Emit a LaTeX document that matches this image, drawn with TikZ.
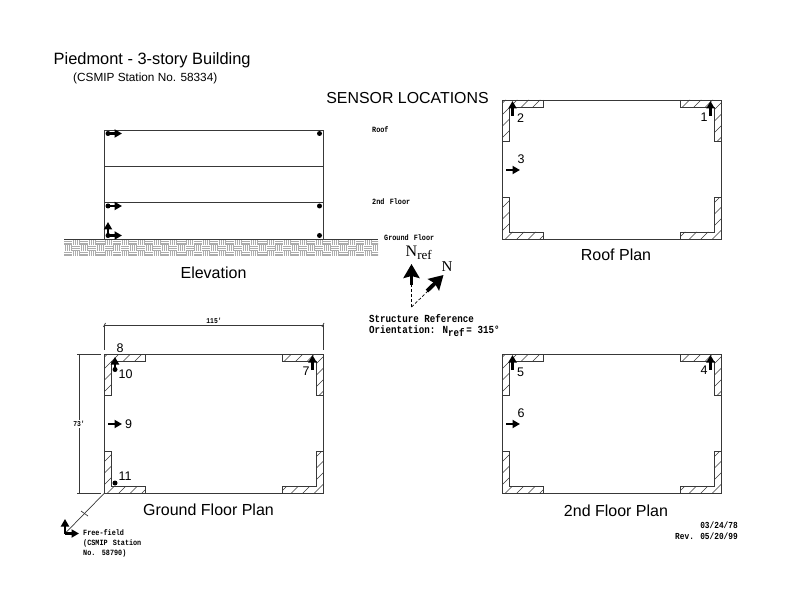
\documentclass[tikz,border=0pt]{standalone}
\usepackage{fontspec}
\setmainfont{Liberation Sans}
\newfontfamily\labfont{Liberation Mono}[FakeStretch=0.85]
\newfontfamily\serfont{Liberation Serif}
\usetikzlibrary{arrows.meta}
\definecolor{wallc}{gray}{0.22}
\tikzset{
  wall/.style={draw=wallc,line width=0.9pt},
  thin wall/.style={draw=wallc,line width=0.7pt},
  hatchline/.style={draw=wallc,line width=0.45pt},
  sensor/.style={-{Triangle[length=7.5pt,width=8pt]},line width=2.2pt,black},
  bigsensor/.style={-{Stealth[length=14pt,width=16pt,inset=2pt]},line width=3.8pt,black},
  dot/.style={circle,fill=black,inner sep=0pt,minimum size=5pt},
  title/.style={font=\fontsize{16.4}{18}\selectfont,anchor=west,inner sep=0pt},
  caption/.style={font=\fontsize{16}{18}\selectfont,inner sep=0pt},
  num/.style={font=\fontsize{12.5}{14}\selectfont,inner sep=0pt},
  lab/.style={font=\labfont\bfseries\fontsize{8}{10}\selectfont,anchor=west,inner sep=0pt,align=left},
  labb/.style={font=\labfont\bfseries\fontsize{9.2}{10}\selectfont,inner sep=0pt,align=left},
  lab2/.style={font=\labfont\bfseries\fontsize{10.8}{11}\selectfont,anchor=west,inner sep=0pt,align=left},
  dim/.style={draw=wallc,line width=0.7pt},
}
% plan outline with four L-shaped hatched corner walls; #1,#2 = top-left corner
\newcommand{\planwalls}[2]{%
  \begin{scope}[shift={(#1,#2)}]
    \foreach \sx/\sy/\ox/\oy in {1/1/0/0,-1/1/218.5/0,1/-1/0/139,-1/-1/218.5/139}{%
      \begin{scope}[shift={(\ox,\oy)},xscale=\sx,yscale=\sy]
        \begin{scope}
          \clip (0,0) -- (41,0) -- (41,7) -- (7,7) -- (7,41.5) -- (0,41.5) -- cycle;
          \begin{scope}[xscale=\sx,yscale=\sy]
            \foreach \k in {-6,...,6}{\draw[hatchline] ({\k*11.5+3-60},60) -- ({\k*11.5+3+60},-60);}
          \end{scope}
        \end{scope}
        \draw[thin wall] (41,0) -- (41,7) -- (7,7) -- (7,41.5) -- (0,41.5);
      \end{scope}}
    \draw[wall] (0,0) rectangle (218.5,139);
  \end{scope}}
\begin{document}
\begin{tikzpicture}[x=1pt,y=-1pt]
\useasboundingbox (0,0) rectangle (792,612);
% titles
\node[title] (t1) at (53.5,60) {Piedmont - 3-story Building};
\node[font=\fontsize{11.8}{14}\selectfont,anchor=west,inner sep=0pt] (t2) at (73,78) {(CSMIP Station No. 58334)};
\node[font=\fontsize{15.9}{18}\selectfont,inner sep=0pt] (t3) at (407.5,98) {SENSOR LOCATIONS};
% ground hatch
\begin{scope}
  \clip (64,239.5) rectangle (378,256);
  \foreach \i in {0,...,38}{\foreach \j in {0,1,2}{%
    \pgfmathsetmacro{\xx}{64+\i*8.1}
    \pgfmathsetmacro{\yy}{240+\j*5.5}
    \pgfmathtruncatemacro{\parity}{mod(\i+\j,2)}
    \ifnum\parity=0
      \foreach \d in {0.9,2.75,4.6}{\draw[gray!65,line width=0.4pt] (\xx,\yy+\d) -- (\xx+8.1,\yy+\d);}
    \else
      \foreach \d in {1,3,5,7}{\draw[gray!65,line width=0.4pt] (\xx+\d,\yy) -- (\xx+\d,\yy+5.5);}
    \fi
  }}
\end{scope}
% elevation
\draw[wall] (64,239) -- (378,239);
\draw[wall] (104.5,130) rectangle (323,239);
\draw[wall] (104.5,166) -- (323,166);
\draw[wall] (104.5,202) -- (323,202);
\node[dot] (e1) at (108,133.5) {};
\node[dot] (e2) at (108,206) {};
\node[dot] (e3) at (108,235.5) {};
\node[dot] (e4) at (319.5,133.5) {};
\node[dot] (e5) at (319.5,206) {};
\node[dot] (e6) at (319.5,235.5) {};
\coordinate (e1h) at (122,133.5);
\coordinate (e2h) at (122,206);
\coordinate (e3h) at (122,235.5);
\coordinate (e3v) at (108,222);
\draw[sensor] (e1.center) -- (e1h);
\draw[sensor] (e2.center) -- (e2h);
\draw[sensor] (e3.center) -- (e3h);
\draw[sensor] (e3.center) -- (e3v);
\node[caption] (c1) at (213.5,273) {Elevation};
\node[lab] (l1) at (372,130) {Roof};
\node[lab] (l2) at (372,201.5) {2nd\hspace{1.3pt} Floor};
\node[lab] (l3) at (384,237.5) {Ground\hspace{1pt} Floor};
% north
\coordinate (o) at (411.5,307);
\coordinate (nr) at (411.5,264);
\coordinate (ne) at (443.5,275);
\draw[densely dashed,line width=0.7pt] (o) -- (411.5,285);
\draw[densely dashed,line width=0.7pt] (o) -- (428,291);
\draw[bigsensor] (411.5,285) -- (nr);
\draw[bigsensor] (427,291) -- (ne);
\node[font=\serfont\fontsize{16}{18}\selectfont,inner sep=0pt,anchor=west] (n1) at (405.5,253) {N\raisebox{-3.5pt}{\fontsize{13}{14}\selectfont ref}};
\node[font=\serfont\fontsize{15}{16}\selectfont,inner sep=0pt] (n2) at (447,267) {N};
\node[lab2,anchor=north west] (s1) at (369,314) {Structure Reference\\Orientation: N\raisebox{-3.5pt}{ref}\,= 315°};
% plans
\planwalls{502.5}{100}
\planwalls{104.5}{354}
\planwalls{502.5}{354}
% arrows
\foreach \nm/\x/\y in {r1/710.5/116,r2/512.5/116,f4/710.5/370,f5/512.5/370,g7/312.5/370}{
  \coordinate (\nm a) at (\x,\y);
  \coordinate (\nm b) at (\x,\y-15);
  \draw[sensor] (\nm a) -- (\nm b);}
\foreach \nm/\x/\y in {r3/506/170,f6/506/424,g9/108/424}{
  \coordinate (\nm a) at (\x,\y);
  \coordinate (\nm b) at (\x+14,\y);
  \draw[sensor] (\nm a) -- (\nm b);}
\node[num] (n1a) at (704,117) {1};
\node[num] (n2a) at (520.5,118) {2};
\node[num] (n3a) at (521,159) {3};
\node[caption] (c2) at (616,255) {Roof Plan};
\node[num] (n4a) at (704,370) {4};
\node[num] (n5a) at (520.5,372) {5};
\node[num] (n6a) at (521,413) {6};
\node[caption] (c3) at (616,511) {2nd Floor Plan};
\node[num] (n7a) at (306,371) {7};
\node[num] (n8a) at (120,348) {8};
\node[num] (n9a) at (128.5,424) {9};
\node[num] (n10a) at (125.5,374) {10};
\node[num] (n11a) at (125,476.5) {11};
\node[dot] (g10) at (115,369.5) {};
\coordinate (g10b) at (115,357);
\draw[sensor] (g10.center) -- (g10b);
\node[dot] (g11) at (115,483) {};
\node[caption] (c4) at (208.5,510) {Ground Floor Plan};
% dimensions
\coordinate (d1) at (104.5,325);
\coordinate (d2) at (323,325);
\coordinate (d1b) at (104.5,350);
\coordinate (d2b) at (323,350);
\draw[dim] (d1) -- (d2);
\draw[dim] (d1) -- (d1b);
\draw[dim] (d2) -- (d2b);
\draw[dim] (103.5,327) -- (105.5,323);
\draw[dim] (322,327) -- (324,323);
\node[font=\labfont\bfseries\fontsize{7.5}{8}\selectfont,inner sep=0pt] (d3) at (214,321) {115'};
\coordinate (d4) at (79,354);
\coordinate (d5) at (79,493);
\coordinate (d4b) at (101,354);
\coordinate (d5b) at (101,493);
\draw[dim] (d4) -- (d5);
\draw[dim] (77,354) -- (d4b);
\draw[dim] (77,493) -- (d5b);
\node[fill=white,font=\labfont\bfseries\fontsize{7.5}{8}\selectfont,inner sep=1pt] (d6) at (79,424) {73'};
% free field
\coordinate (ff0) at (104.5,493);
\coordinate (ff1) at (65,533.5);
\coordinate (ffv) at (65,519);
\coordinate (ffh) at (79,533.5);
\draw[dim] (ff0) -- (ff1);
\draw[dim] (81,511) -- (88,516);
\draw[sensor] (ff1) -- (ffv);
\draw[sensor] (ff1) -- (ffh);
\node[lab] (ff2) at (83,533) {Free-field};
\node[lab] (ff3) at (83,543.5) {(CSMIP\hspace{1pt} Station};
\node[lab] (ff4) at (83,553.5) {No.\hspace{1pt} 58790)};
\node[labb,anchor=east] (da) at (738,525) {03/24/78};
\node[labb,anchor=east] (db) at (738,536) {Rev. 05/20/99};
\end{tikzpicture}
\end{document}
